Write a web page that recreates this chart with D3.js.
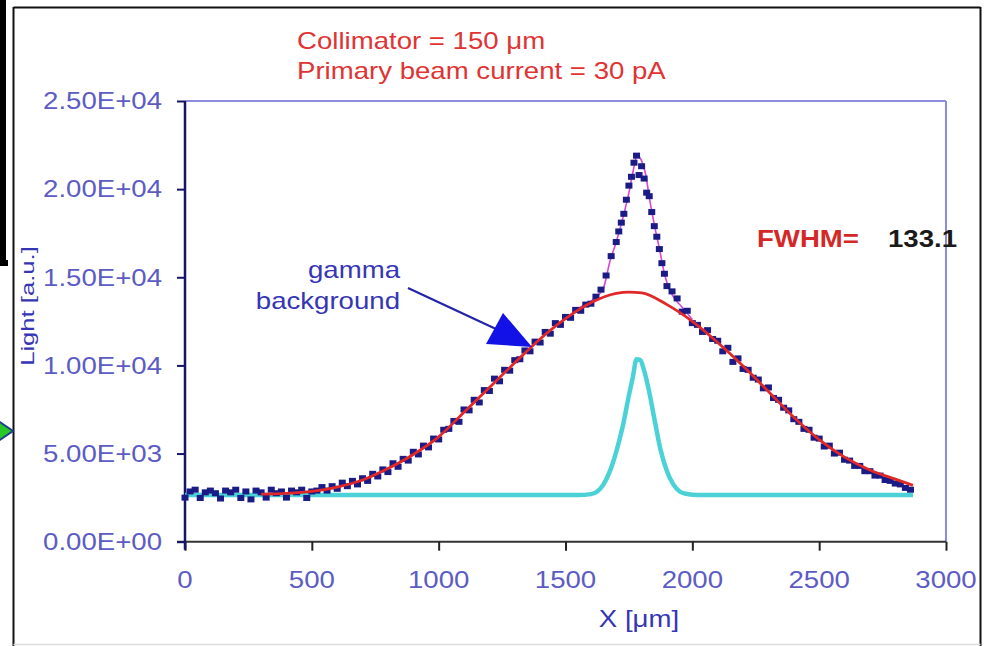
<!DOCTYPE html>
<html>
<head>
<meta charset="utf-8">
<script src="https://cdn.jsdelivr.net/npm/d3@7"></script>
<style>
  html, body { margin: 0; padding: 0; background: #fff; }
  svg { display: block; }
  text { font-family: "Liberation Sans", Arial, sans-serif; }
</style>
</head>
<body>
<svg id="chart" width="989" height="646"></svg>
<script>
// ---------- DATA ----------
const xTicks = [0, 500, 1000, 1500, 2000, 2500, 3000];
const xTickLabels = ["0", "500", "1000", "1500", "2000", "2500", "3000"];
const yTicks = [0, 5000, 10000, 15000, 20000, 25000];
const yTickLabels = ["0.00E+00", "5.00E+03", "1.00E+04", "1.50E+04", "2.00E+04", "2.50E+04"];

// measured light (dark blue markers)
const measX = [0,20,40,60,80,100,120,140,160,180,200,220,240,260,280,300,320,340,360,380,
  400,420,440,460,480,500,520,540,560,580,600,620,640,660,680,700,720,740,760,780,
  800,820,840,860,880,900,920,940,960,980,1000,1020,1040,1060,1080,1100,1120,1140,1160,1180,
  1200,1220,1240,1260,1280,1300,1320,1340,1360,1380,1400,1420,1440,1460,1480,1500,1520,1540,1560,1580,
  1600,1620,1640,1660,1680,1700,1710,1720,1730,1740,1750,1760,1770,1780,1790,1800,1810,1820,1830,1840,
  1850,1860,1870,1880,1890,1900,1920,1940,1960,1980,2000,2020,2040,2060,2080,2100,2120,2140,2160,2180,
  2200,2220,2240,2260,2280,2300,2320,2340,2360,2380,2400,2420,2440,2460,2480,2500,2520,2540,2560,2580,
  2600,2620,2640,2660,2680,2700,2720,2740,2760,2780,2800,2820,2840,2860];
const measY = [2500,2850,2950,2480,2800,2900,2750,2450,2900,2800,2950,2480,2850,2400,2900,2800,2500,2950,2750,2850,
  2500,2900,2800,2950,2480,2850,2900,3100,2900,3150,3000,3350,3150,3450,3250,3600,3450,3850,3700,4100,
  3950,4450,4250,4700,4600,5100,4950,5450,5350,5850,5800,6350,6400,6850,6800,7500,7450,8050,7900,8600,
  8550,9250,9100,9750,9700,10300,10350,10850,10800,11350,11300,11900,11800,12400,12300,12750,12700,13150,13100,13450,
  13500,13900,14300,15100,16200,17000,17600,18100,18600,19400,20200,20700,21500,21900,20800,21300,20600,19800,19600,18700,
  17900,17300,16600,15800,15200,14500,14200,13800,13050,13100,12400,12300,11900,12000,11500,11400,10800,11000,10200,10400,
  9800,9750,9300,9200,8700,8750,8150,8050,7600,7450,6950,6800,6400,6350,5900,5850,5400,5450,5000,5050,
  4650,4600,4300,4300,4000,4000,3750,3750,3500,3450,3300,3250,3050,2950];

// gamma background fit (red)
const bgX = [300,400,500,600,700,800,900,1000,1100,1200,1300,1400,1500,1600,1700,1750,1800,1900,2000,2100,2200,2300,2400,2500,2600,2700,2800,2870];
const bgY = [2700,2740,2850,3100,3500,4150,4950,5950,7350,8750,10150,11500,12650,13550,14080,14160,14120,13450,12500,11300,9970,8520,7060,5790,4800,4070,3550,3200];

// total fit (magenta)
const totX = [1550,1600,1625,1650,1675,1700,1725,1750,1765,1782,1800,1815,1833,1850,1872,1890,1910,1930,1960,2000];
const totY = [13250,13650,13950,14400,15900,17000,18300,19800,20900,21900,21600,20900,19300,18000,16500,15200,14300,13800,13300,12600];

// peak gaussian + offset (cyan)
const pkX = [0,1550,1600,1625,1650,1675,1700,1725,1750,1765,1780,1795,1810,1830,1850,1875,1900,1925,1950,1975,2000,2050,2870];
const pkY = [2650,2650,2700,2850,3250,4000,5100,6500,8300,9300,10350,10300,9700,8500,7000,5200,4000,3250,2850,2720,2670,2650,2650];

const titleLines = ["Collimator = 150 \u03bcm", "Primary beam current = 30 pA"];
const fwhmLabel = "FWHM=";
const fwhmValue = "133.1";
const annotLines = ["gamma", "background"];
const xTitle = "X [\u03bcm]";
const yTitle = "Light [a.u.]";

// ---------- DRAW ----------
const svg = d3.select("#chart");
const SX = 1.2; // horizontal stretch of the source picture's text
const FS = 23;

const x = d3.scaleLinear().domain([0, 3000]).range([185, 946]);
const y = d3.scaleLinear().domain([0, 25000]).range([541.7, 101]);

function txt(g, s, px, py, opts) {
  const t = g.append("text")
    .attr("transform", `translate(${px},${py}) scale(${opts.sx || SX},1)`)
    .attr("font-size", opts.size || FS)
    .attr("fill", opts.fill || "#000")
    .attr("text-anchor", opts.anchor || "start")
    .text(s);
  if (opts.weight) t.attr("font-weight", opts.weight);
  if (opts.dy) t.attr("dy", opts.dy);
  return t;
}

// outer frame remnants
svg.append("rect").attr("x", 0).attr("y", 0).attr("width", 6).attr("height", 266).attr("fill", "#000");
svg.append("rect").attr("x", 0).attr("y", 260).attr("width", 8).attr("height", 6).attr("fill", "#000");
svg.append("line").attr("x1", 13.5).attr("y1", 7.5).attr("x2", 980.5).attr("y2", 7.5).attr("stroke", "#111").attr("stroke-width", 2);
svg.append("line").attr("x1", 13.5).attr("y1", 7).attr("x2", 13.5).attr("y2", 646).attr("stroke", "#111").attr("stroke-width", 2);
svg.append("line").attr("x1", 980.5).attr("y1", 7).attr("x2", 980.5).attr("y2", 646).attr("stroke", "#111").attr("stroke-width", 2);
svg.append("line").attr("x1", 13.5).attr("y1", 644.5).attr("x2", 980.5).attr("y2", 644.5).attr("stroke", "#ddd").attr("stroke-width", 1.5);

// green arrow at left
svg.append("polygon").attr("points", "-6,418 13,431 -6,444")
  .attr("fill", "#27c727").attr("stroke", "#1d3d8a").attr("stroke-width", 2);

// plot border (top & right) light blue
svg.append("line").attr("x1", x(0)).attr("y1", y(25000)).attr("x2", x(3000)).attr("y2", y(25000))
  .attr("stroke", "#8c8ce0").attr("stroke-width", 2);
svg.append("line").attr("x1", x(3000)).attr("y1", y(25000)).attr("x2", x(3000)).attr("y2", y(0))
  .attr("stroke", "#8c8ce0").attr("stroke-width", 2);

// x axis
const xAxisG = svg.append("g").attr("transform", `translate(0,${y(0)})`)
  .call(d3.axisBottom(x).tickValues(xTicks).tickSize(9).tickFormat(""));
xAxisG.select(".domain").attr("stroke", "#333").attr("stroke-width", 2).attr("d", `M177,0H${x(3000)}`);
xAxisG.selectAll(".tick line").attr("stroke", "#222").attr("stroke-width", 2);
xTicks.forEach((v, i) => {
  txt(svg, xTickLabels[i], x(v), 588, { anchor: "middle", fill: "#5c5cc4" });
});

// y axis
const yAxisG = svg.append("g").attr("transform", `translate(${x(0)},0)`)
  .call(d3.axisLeft(y).tickValues(yTicks).tickSize(8).tickFormat(""));
yAxisG.select(".domain").attr("stroke", "#14146a").attr("stroke-width", 2.5).attr("d", `M0,${y(25000)}V${y(0) + 8}`);
yAxisG.selectAll(".tick line").attr("stroke", "#14146a").attr("stroke-width", 2);
yTicks.forEach((v, i) => {
  txt(svg, yTickLabels[i], 162, y(v), { anchor: "end", fill: "#5c5cc4", dy: "0.36em" });
});

// series
const smooth = d3.line().x(d => x(d[0])).y(d => y(d[1])).curve(d3.curveMonotoneX);

svg.append("path").datum(pkX.map((v, i) => [v, pkY[i]]))
  .attr("d", smooth).attr("fill", "none").attr("stroke", "#4ad2d6").attr("stroke-width", 4.5)
  .attr("stroke-linejoin", "round");

svg.append("path").datum(totX.map((v, i) => [v, totY[i]]))
  .attr("d", smooth).attr("fill", "none").attr("stroke", "#d447d8").attr("stroke-width", 1.6);

svg.append("g").selectAll("rect").data(measX.map((v, i) => [v, measY[i]])).join("rect")
  .attr("x", d => x(d[0]) - 3.5).attr("y", d => y(d[1]) - 3)
  .attr("width", 7).attr("height", 6).attr("fill", "#1b1b86");

svg.append("path").datum(bgX.map((v, i) => [v, bgY[i]]))
  .attr("d", smooth).attr("fill", "none").attr("stroke", "#e02828").attr("stroke-width", 2.8);

// titles
txt(svg, titleLines[0], 297, 49, { fill: "#e03333" });
txt(svg, titleLines[1], 297, 79, { fill: "#e03333" });

// FWHM
txt(svg, fwhmLabel, 757, 247, { fill: "#d42828", weight: "bold" });
txt(svg, fwhmValue, 888, 247, { fill: "#1a1a1a", weight: "bold" });

// annotation
txt(svg, annotLines[0], 400, 278, { anchor: "end", fill: "#3535b5" });
txt(svg, annotLines[1], 400, 309, { anchor: "end", fill: "#3535b5" });
svg.append("line").attr("x1", 408).attr("y1", 288).attr("x2", 496).attr("y2", 329)
  .attr("stroke", "#2424a8").attr("stroke-width", 2.2);
svg.append("polygon").attr("points", "503,313 532,347 486,344").attr("fill", "#1212e6");

// axis titles
txt(svg, xTitle, 639, 627, { anchor: "middle", fill: "#3535b5" });
svg.append("text")
  .attr("transform", `translate(34,306) rotate(-90) scale(1.35,1)`)
  .attr("font-size", 19).attr("fill", "#3535b5").attr("text-anchor", "middle")
  .text(yTitle);
</script>
</body>
</html>
